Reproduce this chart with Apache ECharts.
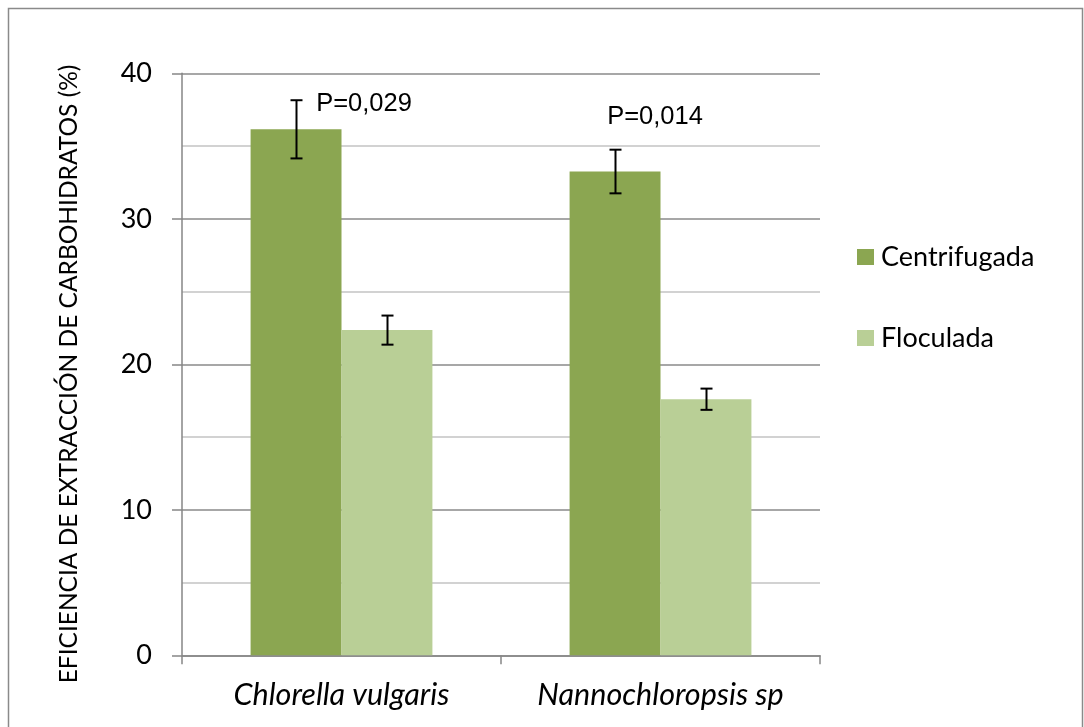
<!DOCTYPE html>
<html>
<head>
<meta charset="utf-8">
<script src="https://cdn.jsdelivr.net/npm/echarts@6/dist/echarts.min.js"></script>
<style>
  html, body { margin: 0; padding: 0; background: #fff; }
  #chart { width: 1084px; height: 727px; }
</style>
</head>
<body>
<div id="chart"></div>
<script>
// Carbohydrate extraction efficiency by species and harvesting method
const species = ['Chlorella vulgaris', 'Nannochloropsis sp'];
const seriesNames = ['Centrifugada', 'Floculada'];
const centrifugada = [36.15, 33.25];
const floculada = [22.35, 17.6];
const centrifugadaErr = [2.0, 1.5];
const floculadaErr = [1.0, 0.73];
const pValues = ['P=0,029', 'P=0,014'];
const pLabelY = [37.9, 37.0];
const yTicks = [0, 10, 20, 30, 40];

const colors = ['#8ba651', '#b9cf96'];
const BAR_FRACTION = 0.285;

const chart = echarts.init(document.getElementById('chart'));

// Error whiskers drawn on top of a given bar series (index 0 = left bar, 1 = right bar)
function errorSeries(values, errs, slot) {
  return {
    type: 'custom',
    name: 'err' + slot,
    z: 10,
    silent: true,
    data: values.map((v, i) => [i, v - errs[i], v + errs[i]]),
    renderItem: function (params, api) {
      const band = api.size([1, 0])[0];
      const bw = band * BAR_FRACTION;
      const off = slot === 0 ? -bw / 2 : bw / 2;
      const lo = api.coord([api.value(0), api.value(1)]);
      const hi = api.coord([api.value(0), api.value(2)]);
      const x = Math.round(lo[0] + off) + 0.5;
      const cap = 6;
      const style = { stroke: '#000', lineWidth: 2, fill: null };
      return {
        type: 'group',
        children: [
          { type: 'line', shape: { x1: x, y1: lo[1], x2: x, y2: hi[1] }, style: style },
          { type: 'line', shape: { x1: x - cap, y1: lo[1], x2: x + cap, y2: lo[1] }, style: style },
          { type: 'line', shape: { x1: x - cap, y1: hi[1], x2: x + cap, y2: hi[1] }, style: style }
        ]
      };
    }
  };
}

// P-value captions, shifted sideways from the centre of the left bar of each group
const labelOffsets = [[68, 0], [40, 0]];

chart.setOption({
  animation: false,
  backgroundColor: '#fff',
  grid: { left: 182, right: 264, top: 73.3, bottom: 71.7 },
  legend: {
    data: seriesNames,
    orient: 'vertical',
    left: 852,
    top: 238.5,
    itemWidth: 17,
    itemHeight: 16,
    itemGap: 54,
    icon: 'rect',
    textStyle: { fontFamily: 'Lato', fontSize: 27, color: '#000', lineHeight: 27, padding: [0, 0, 0, 2] }
  },
  xAxis: {
    type: 'category',
    data: species,
    axisLine: { lineStyle: { color: '#868686', width: 1.5 } },
    axisTick: { show: true, length: 9, lineStyle: { color: '#868686', width: 1.5 } },
    axisLabel: {
      interval: 0,
      fontFamily: 'Lato', fontStyle: 'italic', fontSize: 30.5, color: '#000', margin: 25
    }
  },
  yAxis: {
    type: 'value',
    min: 0,
    max: 40,
    interval: 10,
    axisLine: { show: true, lineStyle: { color: '#868686', width: 1.5 } },
    axisTick: { show: true, inside: false, length: 10, lineStyle: { color: '#868686', width: 1.5 } },
    axisLabel: {
      fontFamily: 'Lato', fontSize: 27, color: '#000', margin: 30,
      formatter: v => (yTicks.indexOf(v) >= 0 ? String(v) : '')
    },
    splitLine: { show: true, lineStyle: { color: '#8a8a8a', width: 1.5 } },
    minorTick: { show: false, splitNumber: 2 },
    minorSplitLine: { show: true, lineStyle: { color: '#c4c4c4', width: 1.5 } }
  },
  series: [
    {
      name: seriesNames[0],
      type: 'bar',
      data: centrifugada,
      barWidth: (BAR_FRACTION * 100) + '%',
      barGap: '0%',
      itemStyle: { color: colors[0] },
      markPoint: {
        symbol: 'circle',
        symbolSize: 0,
        label: {
          show: true,
          fontFamily: 'Liberation Sans, Arial',
          fontSize: 25.5,
          color: '#000',
          formatter: p => p.name
        },
        data: pValues.map((t, i) => ({
          name: t,
          coord: [i, pLabelY[i]],
          label: { offset: labelOffsets[i] }
        }))
      }
    },
    {
      name: seriesNames[1],
      type: 'bar',
      data: floculada,
      barWidth: (BAR_FRACTION * 100) + '%',
      barGap: '0%',
      itemStyle: { color: colors[1] }
    },
    errorSeries(centrifugada, centrifugadaErr, 0),
    errorSeries(floculada, floculadaErr, 1)
  ],
  graphic: [
    {
      type: 'rect',
      shape: { x: 8.5, y: 8.5, width: 1074, height: 740 },
      style: { fill: null, stroke: '#8a8a8a', lineWidth: 1.5 },
      silent: true,
      z: -1
    },
    {
      type: 'text',
      x: 69,
      y: 374,
      rotation: Math.PI / 2,
      style: {
        text: 'EFICIENCIA DE EXTRACCIÓN DE CARBOHIDRATOS (%)',
        fontFamily: 'Lato',
        fontSize: 24.5,
        fill: '#000',
        align: 'center',
        verticalAlign: 'middle'
      }
    }
  ]
});
</script>
</body>
</html>
